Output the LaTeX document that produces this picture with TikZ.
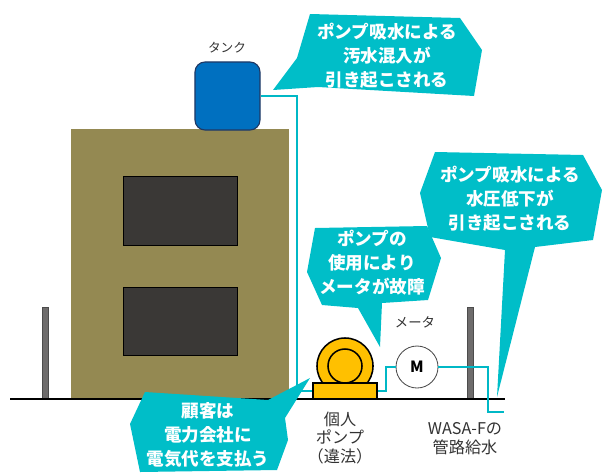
\documentclass[tikz,border=0pt]{standalone}
\usepackage{fontspec}
\setmainfont{Noto Sans CJK JP}
\definecolor{wallolive}{RGB}{148,137,82}
\definecolor{windowgrey}{RGB}{58,56,54}
\definecolor{polegrey}{RGB}{110,108,108}
\definecolor{tankblue}{RGB}{0,112,192}
\definecolor{tankedge}{RGB}{31,56,100}
\definecolor{pumpyellow}{RGB}{255,192,0}
\definecolor{bubblecyan}{RGB}{0,190,200}
\definecolor{pipecyan}{RGB}{0,184,198}
\definecolor{labelgrey}{RGB}{50,50,50}

\begin{document}
\begin{tikzpicture}[x=0.025cm, y=-0.025cm,
  pipe/.style={draw=pipecyan, line width=1.1pt},
  bubble/.style={fill=bubblecyan, draw=none},
  bubbletext/.style={text=white, font=\bfseries\fontsize{12.5}{17}\selectfont, align=center, inner sep=0pt},
  lbl/.style={text=labelgrey, font=\fontsize{11.5}{13.5}\selectfont, align=center, inner sep=0pt},
  window/.style={fill=windowgrey, draw=black, line width=0.4pt},
  pole/.style={fill=polegrey, draw=black!70, line width=0.4pt}]
\useasboundingbox (0,0) rectangle (603,475);

% building with its two windows
\fill[wallolive] (71,129) rectangle (289,399);
\draw[window] (123,176) rectangle (237,245);
\draw[window] (123,287) rectangle (237,355);

% posts and ground
\draw[pole] (42,307) rectangle (48,399);
\draw[pole] (467,307) rectangle (473,399);
\draw[line width=1.2pt] (10,399) -- (505,399);

% roof tank
\node[draw=tankedge, fill=tankblue, line width=0.8pt, rounded corners=0.25cm, minimum width=1.625cm, minimum height=1.7cm] (tank) at (227.5,96) {};
\node[lbl, font=\fontsize{9}{11}\selectfont] (tanklabel) at (227,48) {タンク};

% pump, meter, supply
\coordinate (rotor) at (345,366);
\draw[fill=pumpyellow, line width=1.1pt] (rotor) circle[radius=0.7cm];
\draw[fill=pumpyellow, line width=1.1pt] (rotor) circle[radius=0.425cm];
\node[draw, fill=pumpyellow, line width=1.1pt, minimum width=1.6cm, minimum height=0.4cm, inner sep=0pt] (pump) at (345,391) {};
\node[circle, draw=black!70, fill=white, line width=0.6pt, minimum size=1.05cm, inner sep=0pt, font=\bfseries\fontsize{11}{13}\selectfont] (meter) at (417,367) {M};
\node[lbl, font=\fontsize{9.5}{11}\selectfont] (meterlabel) at (415,322) {メータ};
\coordinate (supply) at (504,412);

\draw[pipe] (tank.east) -- (297,96) |- (pump.west);
\draw[pipe] (pump.east) -- (386,391) |- (meter.west);
\draw[pipe] (meter.east) -- (488,367) |- (supply);

\node[lbl] (pumplabel) at (340,438) {個人\\ポンプ\\（違法）};
\node[lbl] (supplylabel) at (465,439) {WASA-Fの\\管路給水};

% speech bubbles
\fill[bubble] (310,14) -- (460,18) -- (482,50) -- (474,96) -- (318,87) -- (273,90) -- (297,58) -- cycle;
\fill[bubble] (435,152) -- (583,155) -- (602,190) -- (593,240) -- (535,247) -- (497,397) -- (505,250) -- (430,237) -- (420,193) -- cycle;
\fill[bubble] (315,228) -- (427,226) -- (441,258) -- (428,300) -- (382,303) -- (380,347) -- (358,308) -- (322,305) -- (307,272) -- cycle;
\fill[bubble] (145,392) -- (268,400) -- (310,378) -- (285,418) -- (288,440) -- (277,470) -- (140,472) -- (130,424) -- cycle;

\node[bubbletext] (intrusion) at (387,56) {ポンプ吸水による\\汚水混入が\\引き起こされる};
\node[bubbletext] (pressure) at (510,199) {ポンプ吸水による\\水圧低下が\\引き起こされる};
\node[bubbletext] (failure) at (372,263) {ポンプの\\使用により\\メータが故障};
\node[bubbletext] (payment) at (208,435) {顧客は\\電力会社に\\電気代を支払う};

\end{tikzpicture}
\end{document}
